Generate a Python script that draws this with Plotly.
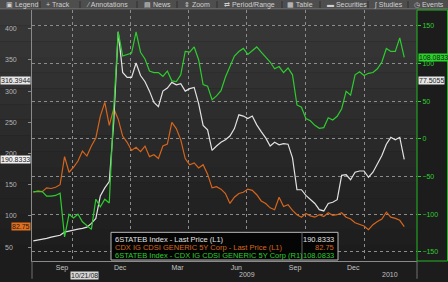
import pandas as pd
import plotly.graph_objects as go

# ---------------- data (weekly samples) ----------------
dates = pd.date_range("2008-08-01", periods=84, freq="7D")

state_last = [60, 61, 63, 64, 66, 67, 69, 74, 76, 77,
              79, 80, 82, 88, 96, 132, 145, 155, 250, 395,
              330, 322, 322, 345, 325, 315, 300, 282, 275, 300,
              305, 314, 310, 312, 300, 304, 306, 280, 245, 238,
              205, 212, 218, 222, 228, 240, 262, 260, 256, 260,
              246, 235, 225, 212, 218, 214, 216, 215, 193, 142,
              142, 133, 126, 120, 110, 108, 120, 122, 126, 165,
              166, 158, 170, 172, 172, 162, 170, 184, 197, 215,
              226, 222, 226, 190.8333]

cdx_last = [138, 140, 139, 145, 144, 146, 150, 195, 170, 178,
            188, 204, 196, 212, 225, 260, 282, 245, 272, 255,
            228, 218, 205, 210, 203, 212, 195, 198, 192, 212,
            215, 250, 240, 222, 192, 182, 185, 177, 182, 167,
            145, 147, 143, 136, 120, 130, 136, 138, 143, 141,
            134, 124, 120, 113, 110, 130, 115, 118, 109, 102,
            98, 104, 100, 98, 102, 99, 105, 101, 102, 105,
            98, 95, 89, 86, 84, 78, 86, 91, 95, 106,
            98, 96, 93, 82.75]

spread = [-70, -70, -70, -76, -76, -75, -72, -130, -100, -105,
          -100, -110, -115, -120, -80, -90, -80, -85, 40, 142,
          110, 112, 114, 142, 115, 106, 90, 88, 88, 83,
          90, 77, 76, 85, 116, 115, 122, 105, 72, 70,
          52, 57, 64, 82, 96, 110, 116, 120, 112, 117,
          122, 115, 108, 102, 93, 96, 88, 94, 85, 45,
          42, 27, 24, 18, 14, 15, 28, 25, 30, 40,
          63, 58, 85, 89, 84, 87, 88, 93, 102, 120,
          116, 116, 134, 108.0833]

series_names = ["6STATEB Index - Last Price (L1)",
                "CDX IG CDSI GENERIC 5Y Corp - Last Price (L1)",
                "6STATEB Index - CDX IG CDSI GENERIC 5Y Corp (R1)"]
last_values = ["190.8333", "82.75", "108.0833"]

left_ticks = [50, 100, 150, 200, 250, 300, 350, 400]
right_ticks = [-150, -100, -50, 0, 50, 100, 150]
grid_dates = ["2008-10-01", "2009-01-01", "2009-04-01", "2009-07-01", "2009-10-01", "2010-01-01"]
month_dates = ["2008-09-15", "2008-12-15", "2009-03-15", "2009-06-15", "2009-09-15", "2009-12-15"]
month_labels = ["Sep", "Dec", "Mar", "Jun", "Sep", "Dec"]
year_dates = ["2009-07-01", "2010-02-10"]
year_labels = ["2009", "2010"]
toolbar_items = ["Legend", "Track", "Annotations", "News", "Zoom",
                 "Period/Range", "Table", "Securities", "Studies", "Events"]

crosshair_date = "2008-10-21"
crosshair_left = 316.3944
crosshair_right = 77.5055

# ---------------- styles ----------------
FONT = "Liberation Sans, Arial, sans-serif"
WHITE = "#e2e2e2"
ORANGE = "#d5651c"
GREEN = "#2ecc2e"
W, H = 448, 282
ML, MR, MT, MB = 32, 31, 10, 18
PW, PH = W - ML - MR, H - MT - MB


def px(xp):
    return (xp - ML) / PW


def py(yp):
    return (H - MB - yp) / PH


fig = go.Figure()
fig.add_trace(go.Scatter(x=dates, y=cdx_last, mode="lines", line=dict(color=ORANGE, width=1.2),
                         name=series_names[1], hoverinfo="skip"))
fig.add_trace(go.Scatter(x=dates, y=state_last, mode="lines", line=dict(color=WHITE, width=1.2),
                         name=series_names[0], hoverinfo="skip"))
fig.add_trace(go.Scatter(x=dates, y=spread, mode="lines", line=dict(color=GREEN, width=1.2),
                         name=series_names[2], yaxis="y2", hoverinfo="skip"))

shapes = []
# background gradient (plot + left margin)
nb = 16
top_c, bot_c = (0x38, 0x38, 0x38), (0x1c, 0x1c, 0x1c)
for i in range(nb):
    t = i / (nb - 1)
    c = tuple(round(top_c[j] + (bot_c[j] - top_c[j]) * t) for j in range(3))
    y1p = MT + (PH) * i / nb
    y2p = MT + (PH) * (i + 1) / nb
    shapes.append(dict(type="rect", xref="paper", yref="paper", x0=px(0), x1=1,
                       y0=py(y2p), y1=py(y1p), fillcolor="rgb(%d,%d,%d)" % c,
                       line=dict(width=0), layer="below"))
# toolbar
shapes.append(dict(type="rect", xref="paper", yref="paper", x0=px(0), x1=px(W),
                   y0=py(9), y1=py(0), fillcolor="#4e4e4e", line=dict(width=0), layer="below"))
shapes.append(dict(type="line", xref="paper", yref="paper", x0=px(0), x1=px(W),
                   y0=py(9), y1=py(9), line=dict(color="#7a7a7a", width=1)))
# right green axis box
shapes.append(dict(type="rect", xref="paper", yref="paper", x0=1, x1=px(W - 0.5),
                   y0=0, y1=py(MT), line=dict(color="#22b822", width=1), layer="above"))
# vertical frame lines in x-axis area
for xx in (0, 1):
    shapes.append(dict(type="line", xref="paper", yref="paper", x0=xx, x1=xx,
                       y0=py(H), y1=0, line=dict(color="#707070", width=1)))
# legend box
shapes.append(dict(type="rect", xref="paper", yref="paper", x0=px(111), x1=px(338),
                   y0=py(263), y1=py(235), fillcolor="#050505",
                   line=dict(color="#b8b8b8", width=1), layer="above"))
shapes.append(dict(type="line", xref="paper", yref="paper", x0=px(302), x1=px(302),
                   y0=py(263), y1=py(235), line=dict(color="#666", width=1), layer="above"))

ann = []
# toolbar text
tb_x = [4, 44, 84, 142, 182, 222, 285, 325, 372, 412]
tb_icons = ["▣", "+", "⁄", "▤", "⇕", "⇄", "▦", "▬", "∫", "◷"]
for xx, ic, t in zip(tb_x, tb_icons, toolbar_items):
    ann.append(dict(xref="paper", yref="paper", x=px(xx), y=py(4.5), text=ic + " " + t,
                    showarrow=False, xanchor="left", yanchor="middle",
                    font=dict(family=FONT, size=7, color="#d0d0d0")))
for xx in [40, 80, 137, 177, 217, 282, 320, 368, 408]:
    shapes.append(dict(type="line", xref="paper", yref="paper", x0=px(xx), x1=px(xx),
                       y0=py(8), y1=py(1), line=dict(color="#2e2e2e", width=1)))

# left tick labels (left aligned)
for v in left_ticks:
    ann.append(dict(xref="paper", yref="y", x=px(3), y=v, text=str(v), showarrow=False,
                    xanchor="left", yanchor="middle", font=dict(family=FONT, size=7, color="#b4b4b4")))

# year labels
for d, t in zip(year_dates, year_labels):
    ann.append(dict(xref="x", yref="paper", x=d, y=py(277.5), text=t, showarrow=False,
                    xanchor="center", yanchor="middle", font=dict(family=FONT, size=7, color="#c0c0c0")))

# value boxes
def box(xr, x, xa, yr, y, text, bg, fc="#1a1a1a"):
    ann.append(dict(xref=xr, yref=yr, x=x, y=y, text=text, showarrow=False, xanchor=xa,
                    yanchor="middle", bgcolor=bg, borderpad=0,
                    font=dict(family=FONT, size=7, color=fc)))

box("paper", px(31), "right", "y", crosshair_left, "316.3944", "#e6e6e6")
box("paper", px(418), "left", "y2", crosshair_right, "77.5055", "#e6e6e6")
box("paper", px(31), "right", "y", state_last[-1], last_values[0], "#f2f2f2")
box("paper", px(31), "right", "y", cdx_last[-1], last_values[1], "#e2701e")
box("paper", px(418), "left", "y2", spread[-1], last_values[2], "#29d329")
box("x", crosshair_date, "center", "paper", py(278.5), "10/21/08", "#d8d8d8")

# legend text
leg_y = [242, 250, 258]
leg_c = [WHITE, ORANGE, GREEN]
for name, val, yy, c in zip(series_names, last_values, leg_y, leg_c):
    ann.append(dict(xref="paper", yref="paper", x=px(113), y=py(yy), text=name, showarrow=False,
                    xanchor="left", yanchor="middle", font=dict(family=FONT, size=7.5, color=c)))
    ann.append(dict(xref="paper", yref="paper", x=px(336), y=py(yy), text=val, showarrow=False,
                    xanchor="right", yanchor="middle", font=dict(family=FONT, size=7.5, color=c)))

fig.update_layout(
    width=W, height=H,
    margin=dict(l=ML, r=MR, t=MT, b=MB, pad=0),
    paper_bgcolor="#1c1c1c",
    plot_bgcolor="rgba(0,0,0,0)",
    showlegend=False,
    font=dict(family=FONT, size=7, color="#c0c0c0"),
    xaxis=dict(type="date", range=["2008-07-30", "2010-03-25"],
               tickvals=month_dates, ticktext=month_labels, ticks="",
               tickfont=dict(size=7, color="#c4c4c4"), showgrid=False,
               minor=dict(tickvals=grid_dates, showgrid=True, gridcolor="#8c8c8c",
                          griddash="dot", gridwidth=1, ticks=""),
               showline=True, linecolor="#8a8a8a", linewidth=1, zeroline=False),
    yaxis=dict(range=[27.8, 430], tickvals=left_ticks, showticklabels=False,
               ticks="outside", ticklen=3, tickcolor="#8a8a8a", showgrid=False,
               showline=True, linecolor="#8a8a8a", linewidth=1, zeroline=False),
    yaxis2=dict(range=[-162, 171], overlaying="y", side="right", tickvals=right_ticks,
                ticks="outside", ticklen=3, tickcolor="#2ecc2e",
                tickfont=dict(size=7, color="#33cc33"),
                showgrid=True, gridcolor="#8c8c8c", griddash="dot", gridwidth=1,
                showline=False, zeroline=False),
    shapes=shapes,
    annotations=ann,
)

fig.write_html("out.html")
